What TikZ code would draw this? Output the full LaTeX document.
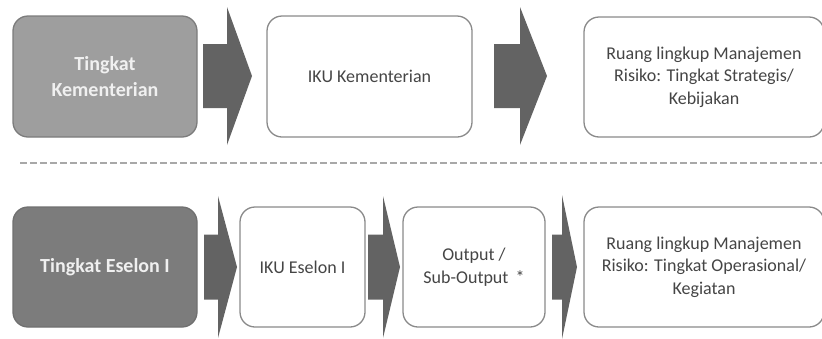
\documentclass[tikz,border=0pt]{standalone}
\usepackage{fontspec}
\setmainfont{Carlito}
\usetikzlibrary{calc}
\definecolor{boxline}{HTML}{8A8A8A}
\definecolor{txt}{HTML}{454545}
\definecolor{lightfill}{HTML}{9E9E9E}
\definecolor{darkfill}{HTML}{7C7C7C}
\definecolor{arrowfill}{HTML}{636363}
\definecolor{dashc}{HTML}{A8A8A8}
\tikzset{
  whitebox/.style={draw=boxline, line width=1.3pt, fill=white, rounded corners=15pt,
    text=txt, align=center, inner sep=0pt, font=\fontsize{18}{22.5}\selectfont},
  graybox/.style={whitebox, fill=lightfill, draw=boxline!90!black, text=white!94!black,
    font=\bfseries\fontsize{20}{26}\selectfont},
  darkbox/.style={graybox, fill=darkfill, draw=darkfill!90!black},
  blockarrow/.style={fill=arrowfill, draw=none},
}
\newcommand{\blockarr}[7]{% name, x0, x1, x2, yc, h, H
  \coordinate (#1) at (#4,#5);
  \fill[blockarrow] (#2,#5-#6) -- (#3,#5-#6) -- (#3,#5-#7) -- (#1) -- (#3,#5+#7) -- (#3,#5+#6) -- (#2,#5+#6) -- cycle;}
\begin{document}
\begin{tikzpicture}[x=1pt,y=-1pt]
\useasboundingbox (0,0) rectangle (822,338);
% top row
\node[graybox, minimum width=184pt, minimum height=121pt] (k1) at (105,76.5) {Tingkat\\Kementerian};
\node[whitebox, minimum width=205pt, minimum height=121pt] (k2) at (369.5,76.5) {IKU Kementerian};
\node[whitebox, minimum width=240pt, minimum height=120pt] (k3) at (704,77) {Ruang lingkup Manajemen\\Risiko: Tingkat Strategis/\\Kebijakan};
\blockarr{a1}{203}{227}{252}{76}{32}{69}
\blockarr{a2}{494}{520}{547}{76}{32}{69}
% separator
\coordinate (d0) at (20,163);
\coordinate (d1) at (822,163);
\draw[dashc, line width=1.6pt, dash pattern=on 7pt off 3pt] (d0) -- (d1);
% bottom row
\node[darkbox, minimum width=184pt, minimum height=120pt] (e1) at (105,267) {Tingkat Eselon I};
\node[whitebox, minimum width=125pt, minimum height=120pt] (e2) at (302.5,267) {IKU Eselon I};
\node[whitebox, minimum width=142pt, minimum height=120pt] (e3) at (474,267) {Output /\\Sub-Output \,*};
\node[whitebox, minimum width=240pt, minimum height=120pt] (e4) at (704,267) {Ruang lingkup Manajemen\\Risiko: Tingkat Operasional/\\Kegiatan};
\blockarr{a3}{204}{218}{237}{267}{32.5}{71}
\blockarr{a4}{368}{383}{400}{267}{32.5}{71}
\blockarr{a5}{552}{562}{577}{267}{32.5}{72}
\end{tikzpicture}
\end{document}
